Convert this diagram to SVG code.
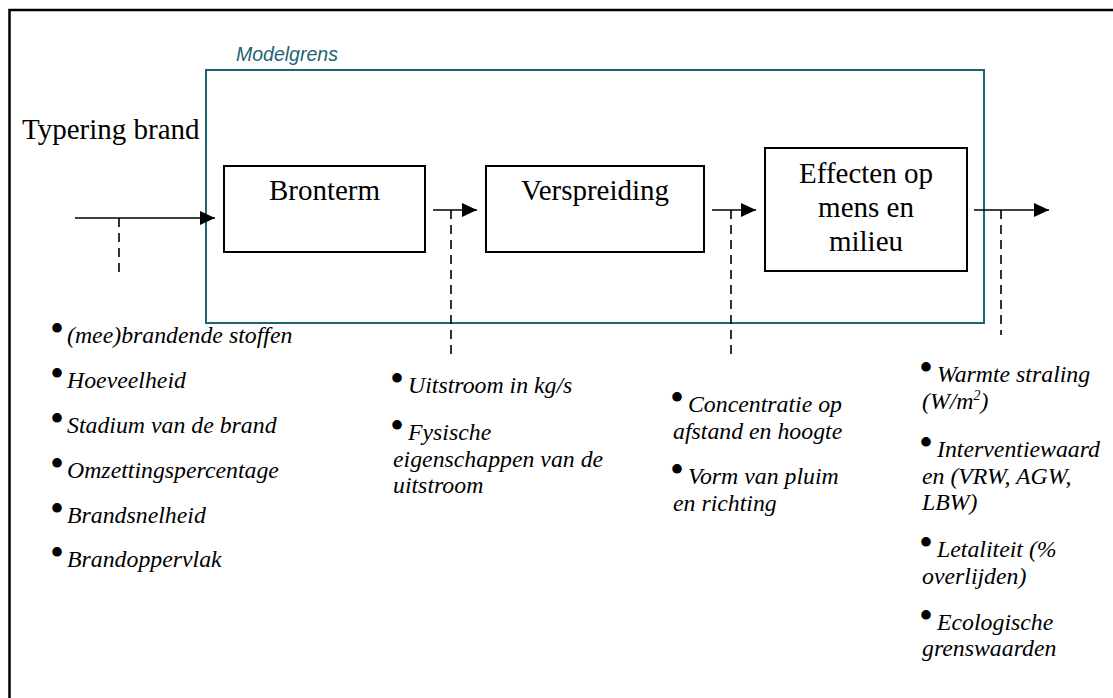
<svg xmlns="http://www.w3.org/2000/svg" width="1113" height="698" viewBox="0 0 1113 698">
<style>
.main{font-family:"Liberation Serif","Times New Roman",serif;font-size:29px;fill:#000}
.it{font-family:"Liberation Serif","Times New Roman",serif;font-style:italic;font-size:23.8px;fill:#000}
.bul{font-family:"Liberation Serif","Times New Roman",serif;font-size:40px;fill:#000}
.box{fill:#fff;stroke:#000;stroke-width:2}
.conn{stroke:#000;stroke-width:1.6;fill:none}
.dash{stroke:#000;stroke-width:1.6;fill:none;stroke-dasharray:9,6}
</style>
<defs>
<marker id="ah" markerUnits="userSpaceOnUse" markerWidth="16" markerHeight="16" viewBox="0 0 16 16" refX="15" refY="8" orient="auto">
<path d="M0,1 L15,8 L0,15 Z" fill="#000"/>
</marker>
</defs>
<rect x="0" y="0" width="1113" height="698" fill="#fff"/>
<rect id="frame" x="9.5" y="10" width="1120" height="720" fill="none" stroke="#000" stroke-width="2.5"/>

<g id="modelgrens">
<rect x="206" y="70" width="778" height="253" fill="none" stroke="#1d6472" stroke-width="2"/>
<text x="236" y="61" font-family="Liberation Sans, Arial, sans-serif" font-style="italic" font-size="19.5" fill="#1d6472">Modelgrens</text>
</g>

<g id="typering">
<text class="main" x="22" y="139">Typering brand</text>
</g>

<g id="bronterm">
<rect class="box" x="224" y="166" width="201" height="86"/>
<text class="main" x="324.5" y="200" text-anchor="middle">Bronterm</text>
</g>

<g id="verspreiding">
<rect class="box" x="486" y="166" width="218" height="86"/>
<text class="main" x="595" y="200" text-anchor="middle">Verspreiding</text>
</g>

<g id="effecten">
<rect class="box" x="765" y="148" width="202" height="123"/>
<text class="main" text-anchor="middle"><tspan x="866" y="183">Effecten op</tspan><tspan x="866" y="217">mens en</tspan><tspan x="866" y="251">milieu</tspan></text>
</g>

<g id="connectors">
<line class="conn" x1="75" y1="218" x2="215" y2="218" marker-end="url(#ah)"/>
<line class="dash" x1="119" y1="218" x2="119" y2="277"/>
<line class="conn" x1="433" y1="210" x2="477" y2="210" marker-end="url(#ah)"/>
<line class="dash" x1="451" y1="210" x2="451" y2="355"/>
<line class="conn" x1="712" y1="210" x2="756" y2="210" marker-end="url(#ah)"/>
<line class="dash" x1="731" y1="210" x2="731" y2="355"/>
<line class="conn" x1="974" y1="210" x2="1049" y2="210" marker-end="url(#ah)"/>
<line class="dash" x1="1001" y1="210" x2="1001" y2="335"/>
</g>

<g id="list-brand">
<text class="bul" x="50" y="342">•</text><text class="it" x="67" y="343">(mee)brandende stoffen</text>
<text class="bul" x="50" y="387">•</text><text class="it" x="67" y="388">Hoeveelheid</text>
<text class="bul" x="50" y="432">•</text><text class="it" x="67" y="433">Stadium van de brand</text>
<text class="bul" x="50" y="477">•</text><text class="it" x="67" y="478">Omzettingspercentage</text>
<text class="bul" x="50" y="522">•</text><text class="it" x="67" y="523">Brandsnelheid</text>
<text class="bul" x="50" y="566">•</text><text class="it" x="67" y="567">Brandoppervlak</text>
</g>

<g id="list-bronterm">
<text class="bul" x="390" y="392">•</text><text class="it" x="408" y="393">Uitstroom in kg/s</text>
<text class="bul" x="390" y="439">•</text><text class="it"><tspan x="408" y="440">Fysische</tspan><tspan x="393" y="467">eigenschappen van de</tspan><tspan x="393" y="493">uitstroom</tspan></text>
</g>

<g id="list-verspreiding">
<text class="bul" x="670" y="411">•</text><text class="it"><tspan x="688" y="412">Concentratie op</tspan><tspan x="673" y="439">afstand en hoogte</tspan></text>
<text class="bul" x="670" y="483">•</text><text class="it"><tspan x="688" y="484">Vorm van pluim</tspan><tspan x="673" y="511">en richting</tspan></text>
</g>

<g id="list-effecten">
<text class="bul" x="919" y="381">•</text><text class="it"><tspan x="937" y="382">Warmte straling</tspan><tspan x="922" y="409">(W/m<tspan font-size="14" dy="-9">2</tspan><tspan dy="9">)</tspan></tspan></text>
<text class="bul" x="919" y="456">•</text><text class="it"><tspan x="937" y="457">Interventiewaard</tspan><tspan x="922" y="484">en (VRW, AGW,</tspan><tspan x="922" y="510">LBW)</tspan></text>
<text class="bul" x="919" y="556">•</text><text class="it"><tspan x="937" y="557">Letaliteit (%</tspan><tspan x="922" y="584">overlijden)</tspan></text>
<text class="bul" x="919" y="629">•</text><text class="it"><tspan x="937" y="630">Ecologische</tspan><tspan x="922" y="656">grenswaarden</tspan></text>
</g>
</svg>
